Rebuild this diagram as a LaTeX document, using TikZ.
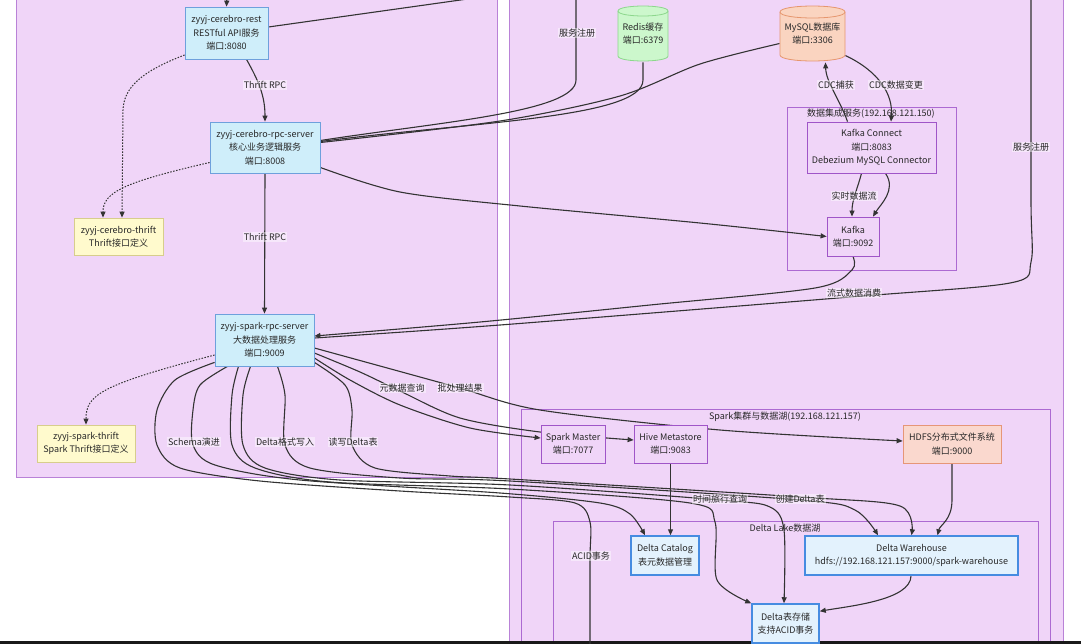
\documentclass[tikz,border=0pt]{standalone}
\usepackage{fontspec}
\setmainfont{Noto Sans CJK SC}
\usetikzlibrary{arrows.meta}
\pgfdeclarelayer{bg}\pgfdeclarelayer{edges}\pgfdeclarelayer{cyl}
\pgfsetlayers{bg,edges,cyl,main}
\definecolor{clf}{RGB}{240,213,248}
\definecolor{clb}{RGB}{185,130,215}
\definecolor{subb}{RGB}{172,105,210}
\definecolor{pnb}{RGB}{160,85,200}
\definecolor{svcf}{RGB}{207,238,250}
\definecolor{svcb}{RGB}{110,160,220}
\definecolor{dlf}{RGB}{227,242,253}
\definecolor{dlb}{RGB}{70,140,225}
\definecolor{ylf}{RGB}{255,250,205}
\definecolor{ylb}{RGB}{215,205,140}
\definecolor{redf}{RGB}{204,247,204}
\definecolor{redb}{RGB}{140,215,140}
\definecolor{myf}{RGB}{250,212,192}
\definecolor{myb}{RGB}{230,150,110}
\definecolor{hdf}{RGB}{250,216,206}
\definecolor{hdb}{RGB}{230,150,120}
\definecolor{ec}{RGB}{51,51,51}
\definecolor{tc}{RGB}{40,40,40}
\newcommand\drawcyl[7]{%
  \filldraw[fill=#6,draw=#7,line width=0.8pt] (#1,#3) -- (#1,#4) .. controls (#1,#4+1.33*#5) and (#2,#4+1.33*#5) .. (#2,#4) -- (#2,#3) .. controls (#2,#3-1.33*#5) and (#1,#3-1.33*#5) .. (#1,#3) -- cycle;
  \draw[draw=#7,line width=0.8pt] (#1,#3) .. controls (#1,#3+1.33*#5) and (#2,#3+1.33*#5) .. (#2,#3);}
\begin{document}
\begin{tikzpicture}[x=1pt,y=-1pt,
  font=\fontsize{9}{13.5}\selectfont, text=tc,
  cluster/.style={fill=clf,draw=clb,line width=0.9pt},
  subcl/.style={fill=clf,draw=subb,line width=0.9pt},
  base/.style={align=center,inner sep=0pt,line width=0.8pt},
  svc/.style={base,fill=svcf,draw=svcb},
  dl/.style={base,fill=dlf,draw=dlb,line width=1.5pt},
  yl/.style={base,fill=ylf,draw=ylb},
  pn/.style={base,fill=clf,draw=pnb},
  hd/.style={base,fill=hdf,draw=hdb},
  cy/.style={base,draw=none,fill=none},
  conn/.style={draw=ec,line width=1.1pt,-{Triangle[length=6pt,width=5pt]}},
  plain/.style={draw=ec,line width=1.1pt},
  dotconn/.style={draw=ec,line width=1pt,dash pattern=on 1.5pt off 1.5pt,-{Triangle[length=6pt,width=5pt]}},
  elab/.style={fill=white,fill opacity=0.45,text opacity=1,inner sep=1pt},
  cltitle/.style={inner sep=0pt}]
\useasboundingbox (0,0) rectangle (1081,643);

\begin{pgfonlayer}{bg}
  \fill[white] (0,0) rectangle (1081,643);
  \draw[cluster] (16,-5) rectangle (497,477);
  \draw[cluster] (509,-5) rectangle (1063,660);
  \draw[subcl] (787,107) rectangle (956,270);
  \draw[subcl] (521,409) rectangle (1050,660);
  \draw[subcl] (553,521) rectangle (1038,660);
  \fill[black!90] (0,641) rectangle (1081,646);
\end{pgfonlayer}

\begin{pgfonlayer}{cyl}
  \drawcyl{618}{668}{11}{56}{5}{redf}{redb}
  \drawcyl{780}{845}{12}{55}{6}{myf}{myb}
\end{pgfonlayer}

% nodes
\node[svc,minimum width=83,minimum height=52] (rest) at (226.5,33) {zyyj-cerebro-rest\\RESTful API服务\\端口:8080};
\node[svc,minimum width=110,minimum height=51] (rpc) at (265,147.5) {zyyj-cerebro-rpc-server\\核心业务逻辑服务\\端口:8008};
\node[yl,minimum width=89,minimum height=37] (cthrift) at (118.5,236.5) {zyyj-cerebro-thrift\\Thrift接口定义};
\node[svc,minimum width=99,minimum height=52] (sparkrpc) at (264.5,340) {zyyj-spark-rpc-server\\大数据处理服务\\端口:9009};
\node[yl,minimum width=98,minimum height=37] (sthrift) at (86,443.5) {zyyj-spark-thrift\\Spark Thrift接口定义};
\node[cy,minimum width=50,minimum height=57] (redis) at (643,33.5) {Redis缓存\\端口:6379};
\node[cy,minimum width=65,minimum height=57] (mysql) at (812.5,33.5) {MySQL数据库\\端口:3306};
\node[pn,minimum width=129,minimum height=51] (kc) at (871.5,147.5) {Kafka Connect\\端口:8083\\Debezium MySQL Connector};
\node[pn,minimum width=52,minimum height=39] (kafka) at (853,236.5) {Kafka\\端口:9092};
\node[pn,minimum width=64,minimum height=38] (smaster) at (573,444) {Spark Master\\端口:7077};
\node[pn,minimum width=73,minimum height=38] (hive) at (670.5,444) {Hive Metastore\\端口:9083};
\node[hd,minimum width=98,minimum height=38] (hdfs) at (952,444) {HDFS分布式文件系统\\端口:9000};
\node[dl,minimum width=68,minimum height=39] (dcat) at (665,555.5) {Delta Catalog\\表元数据管理};
\node[dl,minimum width=213,minimum height=39] (dwh) at (911.5,555.5) {Delta Warehouse\\hdfs://192.168.121.157:9000/spark-warehouse};
\node[dl,minimum width=67,minimum height=39] (dstore) at (785.5,623.5) {Delta表存储\\支持ACID事务};

\node[cltitle] (dititle) at (871,114) {数据集成服务(192.168.121.150)};
\node[cltitle] (sptitle) at (785,417) {Spark集群与数据湖(192.168.121.157)};
\node[cltitle] (dltitle) at (785,528) {Delta Lake数据湖};

% edges
\begin{pgfonlayer}{edges}
  \coordinate (topin) at (227,-6);
  \draw[conn] (topin) -- (rest.north);
  \coordinate (restout) at (496,-5);
  \draw[plain] ([yshift=6pt]rest.east) -- (restout);
  \draw[conn] ([xshift=20pt]rest.south) .. controls (258,80) and (265,95) .. (rpc.north);
  \draw[conn] (rpc.south) -- (sparkrpc.north);
  \draw[dotconn] ([yshift=-22pt]rest.west) .. controls (140,72) and (124,88) .. (123,110) -- ([xshift=3.5pt]cthrift.north);
  \draw[dotconn] ([yshift=-15pt]rpc.west) .. controls (125,182) and (103,192) .. ([xshift=-15.5pt]cthrift.north);
  \draw[dotconn] ([yshift=-15pt]sparkrpc.west) .. controls (100,385) and (86,395) .. (sthrift.north);
  \coordinate (regtop) at (576,-6);
  \draw[plain] ([yshift=7pt]rpc.east) .. controls (440,122) and (576,112) .. (576,80) -- (regtop);
  \draw[plain] ([yshift=6pt]rpc.east) .. controls (470,122) and (643,118) .. (643,80) -- (redis.south);
  \draw[plain] plot[smooth] coordinates {([yshift=5pt]rpc.east) (500,121) (620,96) (700,64) ([yshift=-10pt]mysql.west)};
  \draw[conn] plot[smooth] coordinates {([yshift=-20pt]rpc.east) (400,192) (520,206) (700,223) (kafka.west)};
  \draw[conn] ([xshift=-24pt]kc.north) .. controls (840,100) and (826,82) .. ([xshift=13pt]mysql.south);
  \draw[conn] ([yshift=-22pt]mysql.east) .. controls (880,72) and (893,95) .. ([xshift=19.5pt]kc.north);
  \draw[conn] ([xshift=-10pt]kc.south) .. controls (857,190) and (852,200) .. ([xshift=-1pt]kafka.north);
  \draw[conn] ([xshift=14pt]kc.south) .. controls (897,190) and (880,205) .. ([xshift=20pt]kafka.north);
  \draw[conn] plot[smooth,tension=0.5] coordinates {(kafka.south) (852,270) (815,288) (650,305) (480,322) ([yshift=4pt]sparkrpc.east)};
  \coordinate (regtop2) at (1031,-6);
  \draw[plain] plot[smooth,tension=0.5] coordinates {([yshift=2pt]sparkrpc.east) (500,325) (850,297) (1010,283) (1031,262) (1031,200) (regtop2)};
  \draw[conn] plot[smooth] coordinates {([yshift=-8pt]sparkrpc.east) (380,366) (460,388) (540,410) (720,430) ([yshift=3pt]hdfs.west)};
  \draw[conn] plot[smooth] coordinates {([yshift=-13pt]sparkrpc.east) (360,372) (402,392) (460,418) (540,432) ([yshift=4pt]hive.west)};
  \draw[conn] plot[smooth] coordinates {([yshift=-18pt]sparkrpc.east) (350,380) (400,405) (470,428) ([yshift=6pt]smaster.west)};
  % bottom bundle
  \coordinate (acidend) at (590,660);
  \draw[plain] plot[smooth,tension=0.5] coordinates {([yshift=4pt]sparkrpc.south west) (175,380) (157,410) (157,445) (180,468) (260,481) (400,491) (510,497) (575,503) (590,522) (590,560) (acidend)};
  \draw[conn] plot[smooth,tension=0.5] coordinates {([xshift=-37pt]sparkrpc.south) (200,385) (193,410) (193,445) (215,465) (300,480) (500,493) (600,503) (630,514) ([xshift=-20pt]dcat.north)};
  \draw[conn] plot[smooth,tension=0.5] coordinates {([xshift=-26pt]sparkrpc.south) (232,395) (232,445) (255,468) (330,482) (510,489) (690,503) (715,522) (717,580) (dstore.north west)};
  \draw[conn] plot[smooth,tension=0.5] coordinates {([xshift=-14pt]sparkrpc.south) (243,395) (243,445) (265,468) (340,480) (510,485) (720,500) (770,507) (784,530) ([xshift=-1.5pt]dstore.north)};
  \draw[conn] plot[smooth,tension=0.5] coordinates {([xshift=13pt]sparkrpc.south) (285,395) (285,445) (310,468) (400,478) (510,481) (800,500) (855,510) ([xshift=-33.5pt]dwh.north)};
  \draw[conn] plot[smooth,tension=0.5] coordinates {([yshift=4pt]sparkrpc.south east) (345,385) (352,410) (352,445) (375,468) (450,476) (510,479) (800,497) (900,506) (dwh.north)};
  \draw[conn] (hive.south) -- ([xshift=5.5pt]dcat.north);
  \draw[conn] (hdfs.south) -- (952,500) .. controls (952,520) and (940,525) .. ([xshift=26pt]dwh.north);
  \draw[conn] ([xshift=-0.5pt]dwh.south) .. controls (911,600) and (850,606) .. ([yshift=-8pt]dstore.north east);
\end{pgfonlayer}

% edge labels
\node[elab] (l1) at (265,85) {Thrift RPC};
\node[elab] (l2) at (265,237) {Thrift RPC};
\node[elab] (l3) at (577,33) {服务注册};
\node[elab] (l4) at (1031,147) {服务注册};
\node[elab] (l5) at (836,85) {CDC捕获};
\node[elab] (l6) at (896,85) {CDC数据变更};
\node[elab] (l7) at (854,196) {实时数据流};
\node[elab] (l8) at (854,293) {流式数据消费};
\node[elab] (l9) at (402,388) {元数据查询};
\node[elab] (l10) at (460,388) {批处理结果};
\node[elab] (l11) at (194,442) {Schema演进};
\node[elab] (l12) at (285,442) {Delta格式写入};
\node[elab] (l13) at (353,442) {读写Delta表};
\node[elab] (l14) at (720,499) {时间旅行查询};
\node[elab] (l15) at (800,499) {创建Delta表};
\node[elab] (l16) at (591,556) {ACID事务};
\end{tikzpicture}
\end{document}
